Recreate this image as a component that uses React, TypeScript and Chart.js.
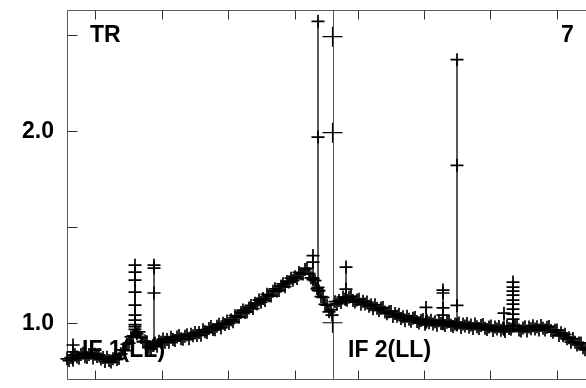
import { useEffect, useRef } from 'react';
import { Chart, registerables } from 'chart.js';

Chart.register(...registerables);

// x in channel units (panel 1: 0..265, panel 2: 266..)
const panel1Points: [number, number][] = [
  [0, 0.812], [2, 0.803], [4, 0.819], [6, 0.805], [6, 0.884], [6, 0.848], [6, 0.815], [8, 0.833],
  [10, 0.821], [12, 0.815], [14, 0.834], [16, 0.841], [18, 0.823], [20, 0.819], [22, 0.834], [24, 0.841],
  [26, 0.817], [28, 0.836], [30, 0.824], [32, 0.833], [34, 0.811], [36, 0.819], [38, 0.798], [40, 0.82],
  [42, 0.804], [44, 0.795], [46, 0.813], [48, 0.822], [50, 0.809], [52, 0.814], [54, 0.838], [56, 0.859],
  [58, 0.855], [60, 0.888], [62, 0.894], [64, 0.926], [66, 0.932], [68, 0.965], [68, 1.30], [68, 0.99],
  [68, 1.264], [68, 0.98], [68, 1.222], [68, 1.16], [68, 1.092], [68, 1.04], [68, 1.014], [70, 0.942],
  [72, 0.952], [74, 0.923], [76, 0.9], [78, 0.905], [80, 0.901], [82, 0.872], [84, 0.864], [86, 0.881],
  [87, 0.885], [87, 1.30], [87, 1.285], [87, 1.155], [87, 0.89], [88, 0.894], [90, 0.878], [92, 0.904],
  [94, 0.898], [96, 0.915], [98, 0.899], [100, 0.913], [102, 0.898], [104, 0.925], [106, 0.913], [108, 0.907],
  [110, 0.926], [112, 0.934], [114, 0.917], [116, 0.914], [118, 0.93], [120, 0.938], [122, 0.917], [124, 0.94],
  [126, 0.932], [128, 0.949], [130, 0.934], [132, 0.949], [134, 0.935], [136, 0.963], [138, 0.953], [140, 0.949],
  [142, 0.97], [144, 0.98], [146, 0.965], [148, 0.964], [150, 0.982], [152, 0.992], [154, 0.973], [156, 0.997],
  [158, 0.991], [160, 1.009], [162, 0.996], [164, 1.015], [166, 1.005], [168, 1.037], [170, 1.03], [172, 1.029],
  [174, 1.053], [176, 1.066], [178, 1.054], [180, 1.056], [182, 1.077], [184, 1.09], [186, 1.074], [188, 1.101],
  [190, 1.098], [192, 1.118], [194, 1.107], [196, 1.126], [198, 1.116], [200, 1.148], [202, 1.141], [204, 1.139],
  [206, 1.164], [208, 1.177], [210, 1.166], [212, 1.168], [214, 1.19], [216, 1.203], [218, 1.188], [220, 1.215],
  [222, 1.212], [224, 1.232], [226, 1.221], [228, 1.24], [230, 1.23], [232, 1.262], [234, 1.255], [236, 1.254],
  [238, 1.277], [240, 1.283], [242, 1.256], [244, 1.234], [246, 1.232], [246, 1.35], [246, 1.316], [246, 1.225],
  [248, 1.219], [250, 1.178], [251, 1.185], [251, 2.57], [251, 1.967], [251, 1.17], [252, 1.166], [254, 1.136],
  [256, 1.132], [258, 1.096], [260, 1.092], [262, 1.057], [264, 1.067], [265, 1.04],
];

const edgePoints: [number, number][] = [
  [265.5, 1.0], [265.5, 1.99], [265.5, 2.49],
];

const panel2Points: [number, number][] = [
  [268, 1.11], [270, 1.098], [272, 1.116], [274, 1.105], [276, 1.134], [278, 1.123], [279, 1.125], [279, 1.29],
  [279, 1.175], [279, 1.128], [280, 1.117], [282, 1.133], [284, 1.137], [286, 1.116], [288, 1.108], [290, 1.119],
  [292, 1.122], [294, 1.096], [296, 1.112], [298, 1.098], [300, 1.108], [302, 1.086], [304, 1.094], [306, 1.073],
  [308, 1.094], [310, 1.076], [312, 1.064], [314, 1.077], [316, 1.079], [318, 1.056], [320, 1.047], [322, 1.057],
  [324, 1.059], [326, 1.032], [328, 1.048], [330, 1.034], [332, 1.044], [334, 1.022], [336, 1.031], [338, 1.011],
  [340, 1.034], [342, 1.018], [344, 1.008], [346, 1.023], [348, 1.027], [350, 1.006], [352, 0.999], [354, 1.012],
  [356, 1.017], [358, 0.992], [359, 1.004], [359, 1.08], [359, 1.002], [360, 1.011], [362, 1.0], [364, 1.013],
  [366, 0.994], [368, 1.005], [370, 0.987], [372, 1.011], [374, 0.996], [376, 0.997], [376, 1.17], [376, 1.155],
  [376, 1.077], [376, 1.04], [376, 0.995], [378, 0.986], [380, 1.002], [382, 1.007], [384, 0.987], [386, 0.981],
  [388, 0.994], [390, 0.99], [390, 2.37], [390, 1.82], [390, 1.09], [390, 0.99], [392, 0.999], [394, 0.975],
  [396, 0.994], [398, 0.983], [400, 0.996], [402, 0.977], [404, 0.988], [406, 0.97], [408, 0.994], [410, 0.979],
  [412, 0.97], [414, 0.986], [416, 0.991], [418, 0.971], [420, 0.965], [422, 0.978], [424, 0.983], [426, 0.959],
  [428, 0.978], [430, 0.967], [432, 0.98], [434, 0.961], [436, 0.972], [437, 0.968], [437, 1.05], [437, 0.966],
  [438, 0.955], [440, 0.981], [442, 0.97], [444, 0.966], [446, 0.982], [446, 1.212], [446, 0.985], [446, 1.186],
  [446, 1.165], [446, 1.144], [446, 1.118], [446, 1.097], [446, 1.071], [446, 1.045], [446, 1.019], [448, 0.983],
  [450, 0.983], [452, 0.962], [454, 0.957], [456, 0.972], [458, 0.979], [460, 0.957], [462, 0.978], [464, 0.969],
  [466, 0.984], [468, 0.967], [470, 0.979], [472, 0.962], [474, 0.986], [476, 0.971], [478, 0.962], [480, 0.977],
  [482, 0.981], [484, 0.96], [486, 0.951], [488, 0.961], [490, 0.962], [492, 0.934], [494, 0.948], [496, 0.932],
  [498, 0.94], [500, 0.916], [502, 0.922], [504, 0.899], [506, 0.918], [508, 0.898], [510, 0.884], [512, 0.895],
  [514, 0.895], [516, 0.87], [518, 0.859], [520, 0.868], [522, 0.86],
];

const xTickValues = [28, 94.7, 161.3, 228, 291, 357, 423, 489.7];
const panelSplit = 265.5;
const yTickValues = [1.0, 1.5, 2.0, 2.5];
const yLabelValues = [1.0, 2.0];
const panelLabels = ['TR', '7', 'IF 1(LL)', 'IF 2(LL)'];

const FONT = 'bold 23px "Liberation Sans", Arial, Helvetica, sans-serif';

const framePlugin = {
  id: 'frame',
  beforeDatasetsDraw(chart: any) {
    const { ctx, chartArea: a, scales } = chart;
    const x = scales.x;
    const y = scales.y;
    ctx.save();
    ctx.lineWidth = 1;
    ctx.strokeStyle = '#5a5a5a';
    ctx.beginPath();
    const L = Math.round(a.left) + 0.5;
    const T = Math.round(a.top) + 0.5;
    const B = Math.round(a.bottom) + 0.5;
    ctx.moveTo(L, T);
    ctx.lineTo(a.right + 20, T);
    ctx.moveTo(L, T);
    ctx.lineTo(L, B);
    ctx.lineTo(a.right + 20, B);
    const sx = Math.round(x.getPixelForValue(panelSplit)) + 0.5;
    ctx.moveTo(sx, T);
    ctx.lineTo(sx, B);
    ctx.stroke();
    ctx.strokeStyle = '#333';
    ctx.beginPath();
    for (const v of xTickValues) {
      const px = Math.round(x.getPixelForValue(v)) + 0.5;
      ctx.moveTo(px, T);
      ctx.lineTo(px, T + 9);
      ctx.moveTo(px, B);
      ctx.lineTo(px, B - 9);
    }
    for (const v of yTickValues) {
      const py = Math.round(y.getPixelForValue(v)) + 0.5;
      ctx.moveTo(L, py);
      ctx.lineTo(L + 10, py);
    }
    ctx.stroke();
    ctx.restore();
  },
  afterDatasetsDraw(chart: any) {
    const { ctx, scales } = chart;
    const y = scales.y;
    ctx.save();
    ctx.font = FONT;
    ctx.fillStyle = '#000';
    ctx.textBaseline = 'middle';
    ctx.textAlign = 'right';
    for (const v of yLabelValues) {
      ctx.fillText(v.toFixed(1), 54, y.getPixelForValue(v) + 1);
    }
    ctx.textAlign = 'left';
    ctx.textBaseline = 'alphabetic';
    ctx.fillText(panelLabels[0], 90, 42);
    ctx.fillText(panelLabels[1], 561, 42);
    ctx.fillText(panelLabels[2], 82, 357);
    ctx.fillText(panelLabels[3], 348, 357);
    ctx.restore();
  },
};

export default function App() {
  const ref = useRef<HTMLCanvasElement>(null);
  useEffect(() => {
    if (!ref.current) return;
    const toXY = (p: [number, number][]) => p.map(([x, y]) => ({ x, y }));
    const common = {
      borderColor: '#000',
      borderWidth: 1.3,
      pointStyle: 'cross' as const,
      pointRadius: 6.5,
      pointBorderWidth: 1.7,
      pointBorderColor: '#000',
      pointBackgroundColor: '#000',
      tension: 0,
      clip: false as const,
      fill: false,
    };
    const chart = new Chart(ref.current, {
      type: 'line',
      data: {
        datasets: [
          { ...common, data: toXY(panel1Points) },
          { ...common, data: toXY(edgePoints), showLine: false, pointRadius: 10, pointBorderWidth: 1.2 },
          { ...common, data: toXY(panel2Points) },
        ],
      },
      options: {
        animation: false,
        responsive: false,
        devicePixelRatio: 1,
        events: [],
        layout: { autoPadding: false, padding: { left: 67, top: 10, right: 0, bottom: 9 } },
        plugins: { legend: { display: false }, tooltip: { enabled: false } },
        scales: {
          x: { type: 'linear', min: 0, max: 519, display: false },
          y: { type: 'linear', min: 0.707, max: 2.629, display: false },
        },
      },
      plugins: [framePlugin],
    });
    return () => chart.destroy();
  }, []);
  return (
    <div style={{ position: 'absolute', left: 0, top: 0, width: 586, height: 388, overflow: 'hidden', background: '#fff' }}>
      <canvas ref={ref} width={586} height={388} style={{ display: 'block' }} />
    </div>
  );
}
